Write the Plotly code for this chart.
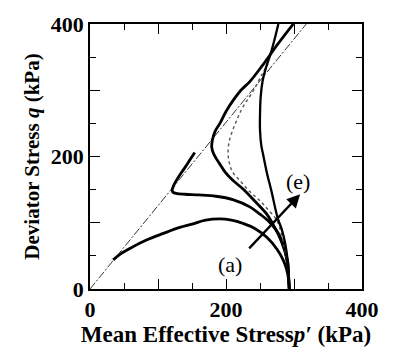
import plotly.graph_objects as go

# Critical state line (q/p' slope ~1.26)
csl_p = [0, 318]
csl_q = [0, 400]

# Stress paths (a)-(e): mean effective stress p' and deviator stress q (kPa)
a_p = [293, 292, 289, 284, 275, 260, 243, 225, 208, 191, 170, 150, 132, 108, 83, 60, 45, 34]
a_q = [0, 15, 30, 44, 60, 78, 91, 99, 104, 106, 104, 98, 93, 84, 74, 62, 53, 44]

b_p = [293, 292, 290, 286, 280, 273, 262, 250, 235, 210, 185, 160, 140, 128, 122, 121, 123, 126, 132, 140, 147, 154]
b_q = [0, 20, 40, 60, 78, 90, 103, 113, 124, 135, 140, 142, 143, 144, 146, 150, 156, 162, 172, 184, 195, 206]

c_p = [293, 292, 291, 286, 279, 270, 260, 243, 225, 210, 199, 190, 185, 181, 179, 180, 184, 191, 200, 210, 222, 235, 254, 275, 299]
c_q = [0, 20, 40, 59, 78, 96, 113, 132, 151, 164, 176, 190, 198, 206, 214, 225, 238, 250, 268, 284, 300, 313, 338, 368, 400]

d_p = [293, 292, 290, 286, 281, 275, 260, 248, 235, 222, 210, 205, 203, 205, 210, 217, 225, 240, 253, 262]
d_q = [0, 20, 40, 62, 85, 103, 122, 135, 147, 162, 176, 190, 206, 224, 240, 258, 275, 299, 324, 340]

e_p = [293, 292, 291, 287, 282, 276, 267, 260, 254, 252, 250, 250, 251, 254, 259, 265, 271, 277]
e_q = [0, 20, 40, 69, 90, 107, 147, 176, 206, 216, 240, 262, 290, 315, 335, 353, 375, 400]

x_ticks = [0, 100, 200, 300, 400]
x_labels = ["0", "", "200", "", "400"]
y_ticks = [0, 100, 200, 300, 400]
y_labels = ["0", "", "200", "", "400"]

FONT = "Liberation Serif"

fig = go.Figure()
fig.add_trace(go.Scatter(x=csl_p, y=csl_q, mode="lines",
                         line=dict(color="black", width=0.8, dash="8px,2px,2px,2px")))
fig.add_trace(go.Scatter(x=a_p, y=a_q, mode="lines", line=dict(color="black", width=2.8, shape="spline")))
fig.add_trace(go.Scatter(x=b_p, y=b_q, mode="lines", line=dict(color="black", width=2.8, shape="spline")))
fig.add_trace(go.Scatter(x=c_p, y=c_q, mode="lines", line=dict(color="black", width=2.8, shape="spline")))
fig.add_trace(go.Scatter(x=d_p, y=d_q, mode="lines", line=dict(color="#555555", width=1.4, dash="dot", shape="spline")))
fig.add_trace(go.Scatter(x=e_p, y=e_q, mode="lines", line=dict(color="black", width=2.3, shape="spline")))

fig.add_annotation(x=309, y=143, ax=232, ay=59, xref="x", yref="y", axref="x", ayref="y",
                   showarrow=True, arrowhead=2, arrowsize=1.1, arrowwidth=2.4, arrowcolor="black", text="")
fig.add_annotation(x=206, y=37, text="(a)", showarrow=False, font=dict(family=FONT, size=22, color="black"))
fig.add_annotation(x=306, y=163, text="(e)", showarrow=False, font=dict(family=FONT, size=22, color="black"))

axis_common = dict(
    range=[0, 400], showgrid=False, zeroline=False, showline=True, linecolor="black", linewidth=1.5,
    mirror="allticks", ticks="inside", ticklen=10, tickwidth=1.2, tickcolor="black",
    minor=dict(dtick=50, ticks="inside", ticklen=6, tickwidth=1, tickcolor="black"),
    tickfont=dict(family=FONT, size=22, color="black"),
)

fig.update_layout(
    width=393, height=352, showlegend=False,
    paper_bgcolor="white", plot_bgcolor="white",
    margin=dict(l=90, r=31, t=19, b=62),
    font=dict(family=FONT, color="black"),
    xaxis=dict(**axis_common, tickvals=x_ticks, ticktext=[f"<b>{t}</b>" if t else "" for t in x_labels],
               title=dict(text="<b>Mean Effective Stress<i>p′</i> (kPa)</b>", font=dict(family=FONT, size=23), standoff=2)),
    yaxis=dict(**axis_common, tickvals=y_ticks, ticktext=[f"<b>{t}</b>" if t else "" for t in y_labels],
               title=dict(text="<b>Deviator Stress <i>q</i> (kPa)</b>", font=dict(family=FONT, size=21), standoff=5)),
)

fig.write_html("out.html")
